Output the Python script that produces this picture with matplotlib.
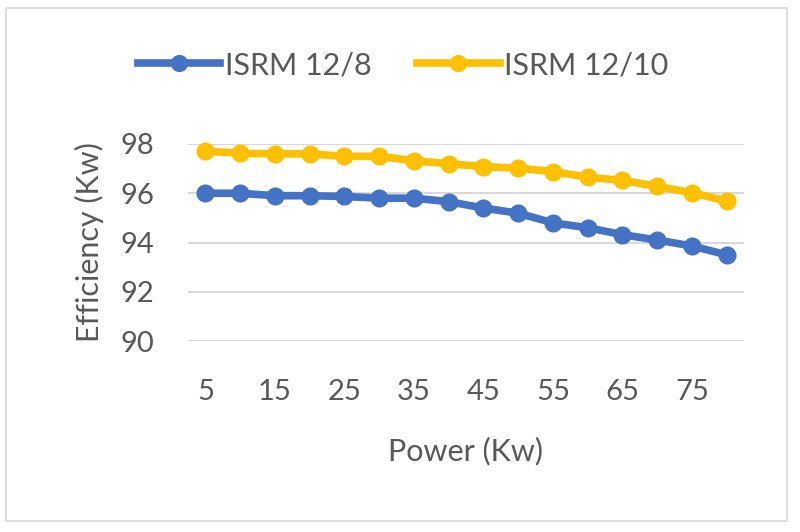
import matplotlib
matplotlib.use("Agg")
import matplotlib.pyplot as plt
from matplotlib.patches import Rectangle

plt.rcParams['font.family'] = ['Lato', 'DejaVu Sans']

power = [5, 10, 15, 20, 25, 30, 35, 40, 45, 50, 55, 60, 65, 70, 75, 80]
isrm_12_8 = [96.0, 96.0, 95.9, 95.9, 95.87, 95.8, 95.8, 95.66, 95.4, 95.19, 94.8, 94.6, 94.32, 94.1, 93.86, 93.5]
isrm_12_10 = [97.72, 97.62, 97.6, 97.6, 97.5, 97.5, 97.32, 97.2, 97.08, 97.02, 96.88, 96.65, 96.52, 96.28, 96.02, 95.68]
yticks = [90, 92, 94, 96, 98]

blue = '#4472C4'
gold = '#FFC000'
txt = '#595959'

fig = plt.figure(figsize=(8, 5.32), dpi=100)
fig.patches.append(Rectangle((6/800, 11/532), 781/800, 513/532, transform=fig.transFigure,
                             fill=False, edgecolor='#D9D9D9', linewidth=1.2))
ax = fig.add_axes([188/800, 1-341/532, (744-188)/800, (341-144)/532])

idx = list(range(len(power)))
ax.plot(idx, isrm_12_8, color=blue, lw=5.5, marker='o', ms=12, label='ISRM 12/8', clip_on=False, zorder=3)
ax.plot(idx, isrm_12_10, color=gold, lw=5.5, marker='o', ms=12, label='ISRM 12/10', clip_on=False, zorder=3)

ax.set_xlim(-0.5, len(power)-0.5)
ax.set_ylim(90, 98)
ax.set_yticks(yticks)
ax.set_xticks(idx[::2])
ax.set_xticklabels([str(p) for p in power[::2]])
ax.tick_params(length=0, labelsize=21, colors=txt)
ax.tick_params(axis='x', pad=27)
ax.tick_params(axis='y', pad=24)
for s in ax.spines.values():
    s.set_visible(False)
ax.grid(axis='y', color='#D9D9D9', lw=1.5)
ax.set_axisbelow(True)

ax.set_xlabel('Power (Kw)', fontsize=22, color=txt, labelpad=23)
ax.set_ylabel('Efficiency (Kw)', fontsize=22, color=txt, labelpad=12)

fig.legend(loc='center', bbox_to_anchor=(403/800, 1-65/532), ncol=2, frameon=False,
           fontsize=22, labelcolor=txt, handlelength=2.7, handletextpad=0.15, columnspacing=1.5,
           markerscale=0.95)

fig.savefig('out.png', dpi=100)
